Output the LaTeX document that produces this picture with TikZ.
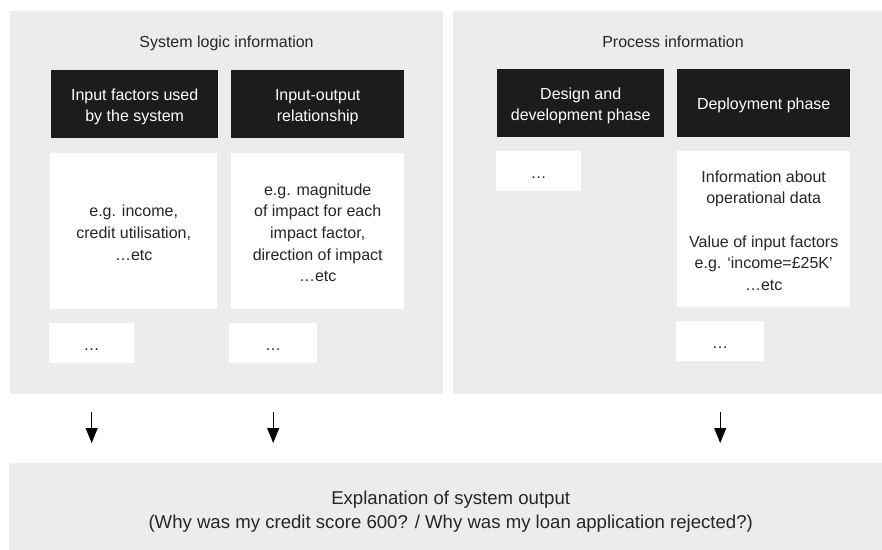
\documentclass[tikz,border=0pt]{standalone}
\usepackage{fontspec}
\setmainfont{Liberation Sans}
\usetikzlibrary{arrows.meta}

\definecolor{panelgrey}{HTML}{ECECEC}
\definecolor{headblack}{HTML}{1C1C1C}
\definecolor{inkgrey}{HTML}{262626}

% line strut so that text blocks centre on their line boxes
\newcommand\vstrut{\rule[-0.15em]{0pt}{1.2em}}

\begin{document}
\begin{tikzpicture}[x=1pt,y=-1pt,
  panel/.style={fill=panelgrey, draw=none, inner sep=0pt, anchor=north west},
  boxtext/.style={font=\fontsize{16}{21.7}\selectfont},
  headbox/.style={boxtext, fill=headblack, text=white, align=center,
    inner sep=0pt, anchor=north west, minimum height=68pt},
  bodybox/.style={boxtext, fill=white, text=inkgrey, align=center,
    inner sep=0pt, anchor=north west, minimum height=156pt},
  dotbox/.style={boxtext, fill=white, text=inkgrey,
    inner sep=0pt, anchor=north west, minimum height=40pt},
  paneltitle/.style={boxtext, text=inkgrey, anchor=base},
  flow/.style={draw=black, line width=1.2pt,
    -{Triangle[width=12pt,length=15pt]}}
]
\useasboundingbox (0,0) rectangle (882,549);
\clip (0,0) rectangle (882,549);

% background panels
\node[panel, minimum width=433pt, minimum height=383pt] (logic) at (10,11) {};
\node[panel, minimum width=439pt, minimum height=383pt] (process) at (453,11) {};
\node[panel, minimum width=883pt, minimum height=91pt,
      text=inkgrey, align=center, font=\fontsize{18.6}{23.7}\selectfont]
  (explain) at (9,463)
  {\vstrut Explanation of system output\\(Why was my credit score 600? / Why was my loan application rejected?)\vstrut};

% panel titles
\node[paneltitle] (logictitle) at (226.5,47) {System logic information};
\node[paneltitle] (processtitle) at (673,47) {Process information};

% system logic column headers
\node[headbox, minimum width=167pt] (inputs) at (51,70)
  {\vstrut Input factors used\\by the system\vstrut};
\node[headbox, minimum width=173pt] (relation) at (231,70)
  {\vstrut Input-output\\relationship\vstrut};

% system logic contents
\node[bodybox, minimum width=167pt] (inputsbody) at (50,153)
  {\vstrut e.g. income,\\credit utilisation,\\…etc\vstrut};
\node[bodybox, minimum width=173pt] (relationbody) at (231,153)
  {\vstrut e.g. magnitude\\of impact for each\\impact factor,\\direction of impact\\…etc\vstrut};
\node[dotbox, minimum width=85pt] (inputsmore) at (49,323) {\vstrut…};
\node[dotbox, minimum width=88pt] (relationmore) at (229,323) {\vstrut…};

% process column headers
\node[headbox, minimum width=167pt] (design) at (497,69)
  {\vstrut Design and\\development phase\vstrut};
\node[headbox, minimum width=173pt] (deploy) at (677,69)
  {\vstrut Deployment phase\vstrut};

% process contents
\node[dotbox, minimum width=85pt] (designmore) at (496,151) {\vstrut…};
\node[bodybox, minimum width=173pt] (deploybody) at (677,151)
  {\vstrut Information about\\operational data\\[21.7pt]Value of input factors\\e.g. ‘income=£25K’\\…etc\vstrut};
\node[dotbox, minimum width=88pt] (deploymore) at (676,321) {\vstrut…};

% flows into the explanation
\draw[flow, shorten <=49pt, shorten >=20pt]
  (inputsmore.south) -- (explain.north -| inputsmore.south);
\draw[flow, shorten <=49pt, shorten >=20pt]
  (relationmore.south) -- (explain.north -| relationmore.south);
\draw[flow, shorten <=51pt, shorten >=20pt]
  (deploymore.south) -- (explain.north -| deploymore.south);
\end{tikzpicture}
\end{document}
